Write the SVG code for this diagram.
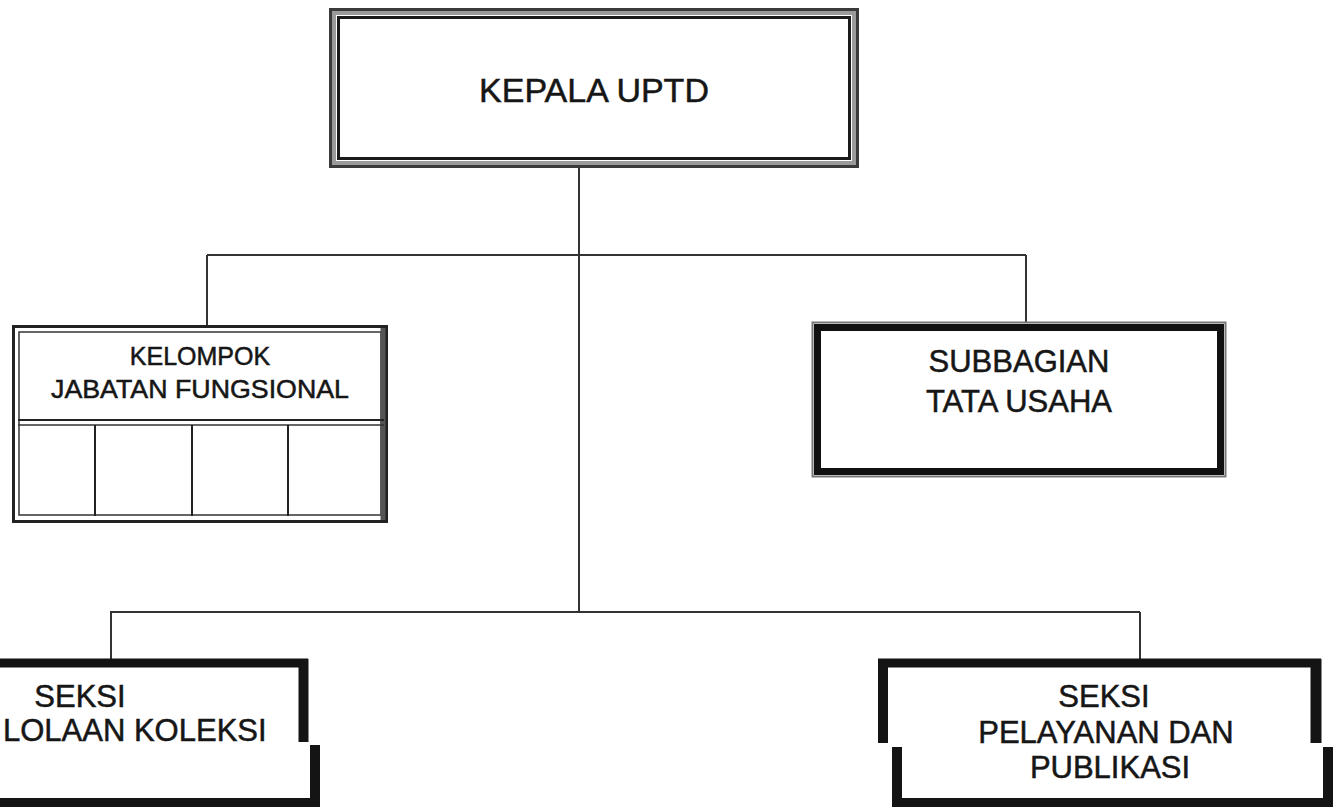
<svg xmlns="http://www.w3.org/2000/svg" width="1338" height="810" viewBox="0 0 1338 810">
<style>
.t{font-family:"Liberation Sans",Arial,sans-serif;fill:#161616;stroke:#161616;stroke-width:0.5;text-anchor:middle}
.c{stroke:#333;stroke-width:2;fill:none}
.b{stroke:#141414;fill:none}
</style>
<rect width="1338" height="810" fill="#fff"/>
<g id="connectors">
<line class="c" x1="579" y1="167" x2="579" y2="612"/>
<line class="c" x1="207" y1="255" x2="1026" y2="255"/>
<line class="c" x1="207" y1="255" x2="207" y2="326"/>
<line class="c" x1="1026" y1="255" x2="1026" y2="323"/>
<line class="c" x1="110" y1="612" x2="1140" y2="612"/>
<line class="c" x1="111" y1="612" x2="111" y2="659"/>
<line class="c" x1="1140" y1="612" x2="1140" y2="659"/>
</g>
<g id="kepala">
<rect x="330.5" y="9.5" width="527" height="157" fill="#fff" stroke="#3a3a3a" stroke-width="3"/>
<rect x="334" y="13" width="520" height="150" fill="none" stroke="#9a9a9a" stroke-width="4"/>
<rect x="338.5" y="17.5" width="511" height="141" fill="none" stroke="#1a1a1a" stroke-width="3"/>
<text class="t" x="594" y="102" font-size="34">KEPALA UPTD</text>
</g>
<g id="kelompok">
<rect x="13.5" y="326.5" width="373" height="195" fill="#fff" stroke="#222" stroke-width="3"/>
<rect x="19" y="332" width="362" height="183" fill="none" stroke="#333" stroke-width="1.5"/>
<line x1="383" y1="328" x2="383" y2="520" stroke="#555" stroke-width="5"/>
<line x1="18" y1="420" x2="384" y2="420" stroke="#222" stroke-width="2"/>
<line x1="18" y1="425" x2="384" y2="425" stroke="#333" stroke-width="1.5"/>
<line x1="95" y1="425" x2="95" y2="516" stroke="#222" stroke-width="2"/>
<line x1="192" y1="425" x2="192" y2="516" stroke="#222" stroke-width="2"/>
<line x1="288" y1="425" x2="288" y2="516" stroke="#222" stroke-width="2"/>
<text class="t" x="200" y="365" font-size="25">KELOMPOK</text>
<text class="t" x="200" y="398" font-size="25" textLength="298" lengthAdjust="spacingAndGlyphs">JABATAN FUNGSIONAL</text>
</g>
<g id="subbagian">
<rect x="812.5" y="322.5" width="413" height="154" fill="#fff" stroke="#777" stroke-width="2"/>
<rect x="817.5" y="327.5" width="403" height="144" fill="none" stroke="#111" stroke-width="7"/>
<text class="t" x="1019" y="372" font-size="31">SUBBAGIAN</text>
<text class="t" x="1019" y="412" font-size="31">TATA USAHA</text>
</g>
<g id="seksi-koleksi">
<line class="b" x1="0" y1="663" x2="308" y2="663" stroke-width="9"/>
<line class="b" x1="303.5" y1="659" x2="303.5" y2="742" stroke-width="10"/>
<line class="b" x1="315" y1="745" x2="315" y2="803" stroke-width="10"/>
<line class="b" x1="0" y1="802.5" x2="320" y2="802.5" stroke-width="9"/>
<text class="t" x="80" y="707" font-size="31">SEKSI</text>
<text class="t" x="3" y="741" font-size="31" style="text-anchor:start">LOLAAN KOLEKSI</text>
</g>
<g id="seksi-pelayanan">
<line class="b" x1="878" y1="663" x2="1321" y2="663" stroke-width="9"/>
<line class="b" x1="883" y1="659" x2="883" y2="743" stroke-width="10"/>
<line class="b" x1="897" y1="747" x2="897" y2="807" stroke-width="10"/>
<line class="b" x1="1316" y1="659" x2="1316" y2="743" stroke-width="11"/>
<line class="b" x1="1328" y1="747" x2="1328" y2="807" stroke-width="10"/>
<line class="b" x1="892" y1="802.5" x2="1333" y2="802.5" stroke-width="9"/>
<text class="t" x="1104" y="707" font-size="31">SEKSI</text>
<text class="t" x="1106" y="743" font-size="31">PELAYANAN DAN</text>
<text class="t" x="1110" y="778" font-size="31">PUBLIKASI</text>
</g>
</svg>
